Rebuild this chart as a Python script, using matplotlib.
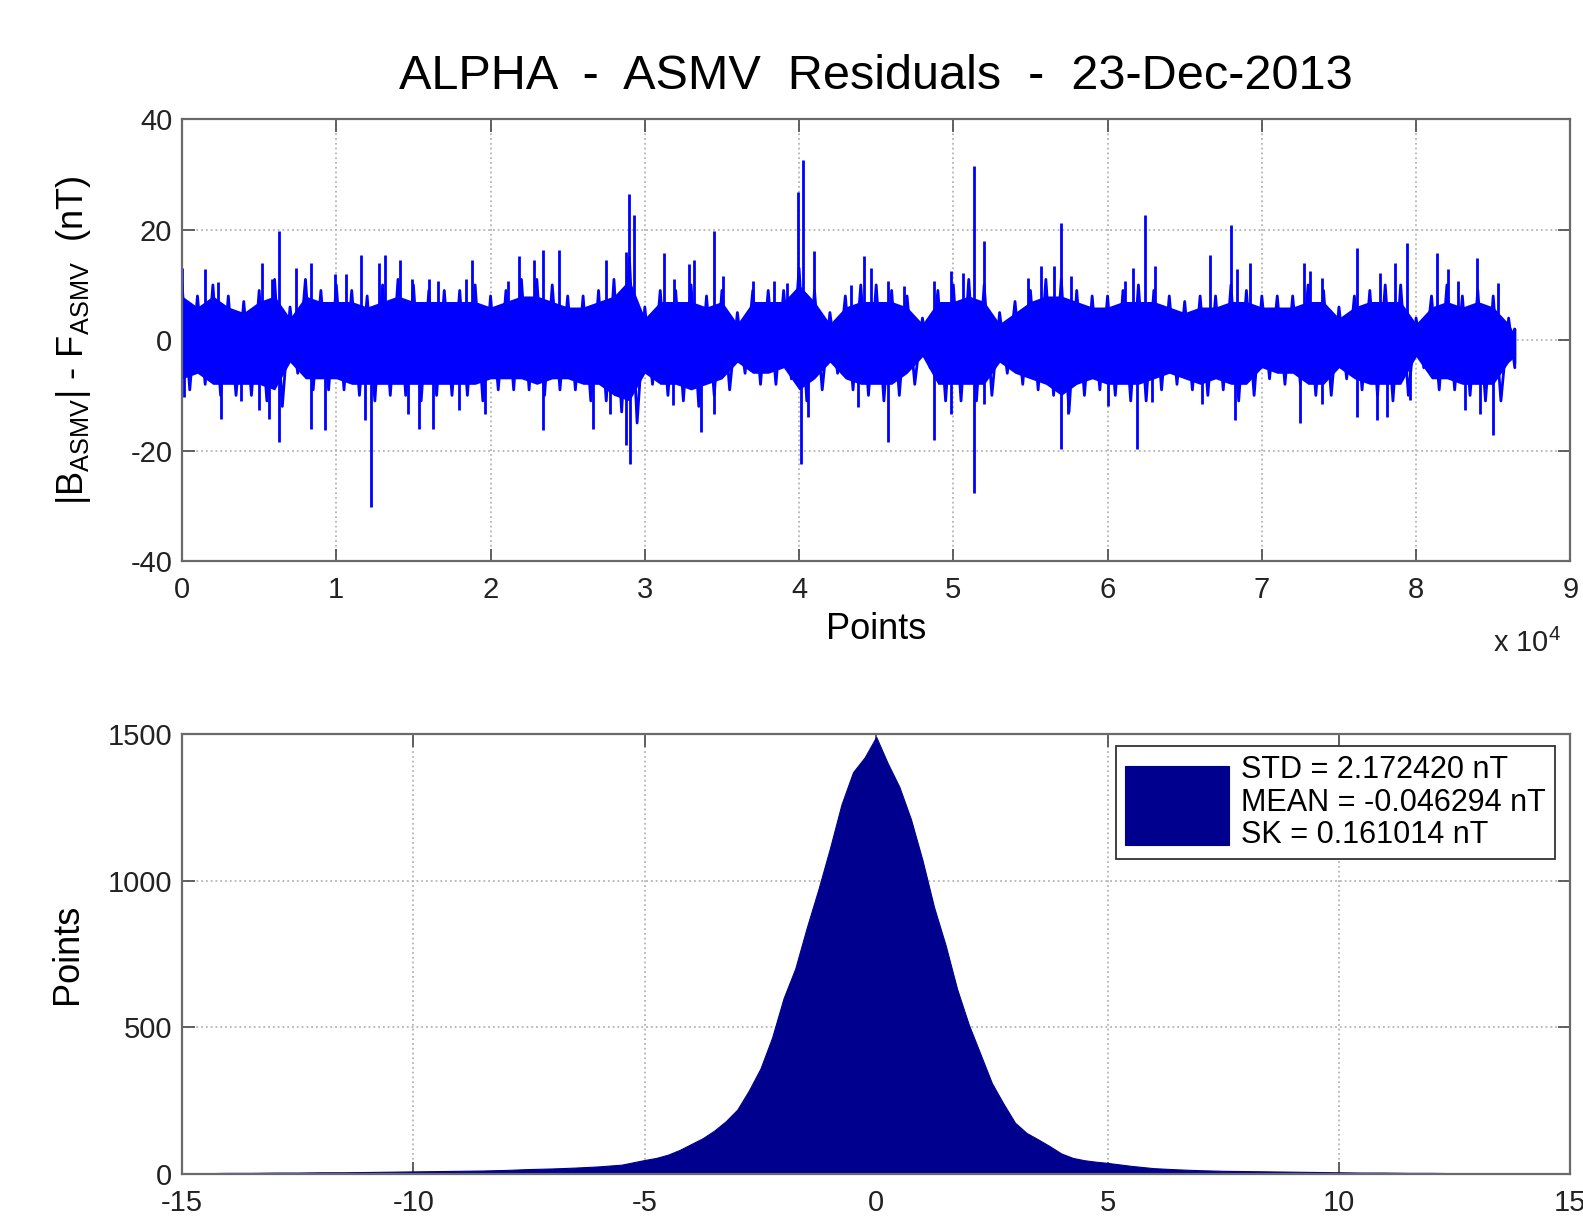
import matplotlib
matplotlib.use('Agg')
from matplotlib import rcParams

rcParams['font.family'] = 'Liberation Sans'
rcParams['mathtext.default'] = 'regular'
rcParams['axes.unicode_minus'] = False
import matplotlib.pyplot as plt

""" ALPHA ASMV residuals: time series (top) and histogram (bottom) """

# residual series, read every 1000 points (nT)
core_x = list(range(0, 87000, 1000)) + [86400]
# solid centre of the band
dense_hi = [8, 6, 8, 6, 5, 7, 8, 4, 8, 7, 7, 7, 6, 7, 8, 7, 7, 7, 7, 7, 6, 7, 8, 8, 7, 6, 6, 7, 8, 11,
            4, 7, 7, 7, 6, 7, 3, 7, 7, 7, 10, 7, 3, 6, 7, 7, 7, 6, 3, 7, 7, 8, 7, 3, 5, 7, 8, 8,
            7, 6, 6, 7, 7, 7, 6, 5, 6, 6, 7, 7, 6, 6, 6, 7, 7, 4, 6, 7, 7, 7, 3, 6, 7, 6, 7, 6, 3, 1]
dense_lo = [-7, -6, -8, -8, -8, -8, -9, -4, -7, -7, -7, -8, -8, -8, -8, -8, -8, -8, -8, -8, -7, -7, -7, -8, -7,
            -7, -8, -8, -10, -11, -6, -8, -8, -9, -8, -7, -4, -6, -6, -5, -9, -7, -4, -7, -8, -8, -8, -6,
            -3, -8, -8, -8, -8, -4, -6, -7, -8, -10, -8, -7, -8, -8, -8, -7, -6, -7, -8, -7, -8, -8, -5,
            -6, -6, -8, -8, -5, -7, -8, -8, -8, -3, -7, -7, -8, -8, -8, -4, -3]
# ragged outer edge of the band
env_hi = [10, 8, 10, 8, 7, 9, 11, 6, 11, 9, 10, 9, 8, 10, 11, 10, 9, 9, 9, 10, 8, 9, 11, 11, 10, 8, 8, 9, 11, 15,
          6, 9, 9, 10, 8, 9, 5, 9, 9, 9, 13, 9, 5, 8, 10, 10, 9, 8, 4, 9, 10, 11, 10, 5, 7, 9, 11, 11,
          9, 8, 8, 9, 10, 9, 8, 7, 8, 8, 10, 9, 8, 8, 8, 10, 9, 6, 8, 9, 10, 10, 4, 8, 10, 8, 9, 8, 4, 2]
env_lo = [-9, -8, -10, -10, -10, -11, -12, -6, -9, -9, -9, -10, -11, -10, -10, -11, -10, -10, -10, -11, -9, -9,
          -9, -10, -9, -9, -11, -11, -13, -15, -8, -10, -11, -12, -10, -9, -6, -8, -8, -7, -11, -9, -6, -9,
          -10, -11, -10, -8, -5, -11, -11, -11, -10, -6, -8, -9, -10, -13, -10, -9, -10, -11, -11, -9, -8,
          -9, -10, -9, -11, -10, -7, -8, -8, -10, -10, -7, -9, -10, -11, -10, -5, -9, -9, -10, -11, -11, -5, -4]

# individual excursions above the band (point index, nT)
up_x = [0, 1500, 2300, 5200, 5800, 6300, 7400, 8370, 9900, 10650, 11600, 12800, 13150, 14100, 14900,
        16000, 16600, 18400, 18800, 21100, 21850, 22800, 23370, 24460, 27500, 28800, 28980, 29300,
        31250, 31900, 32880, 33200, 34500, 35040, 37000, 38390, 39250, 39900, 40230, 40980, 43360,
        44180, 44660, 45740, 46820, 48770, 49850, 50600, 51360, 52010, 54820, 55690, 56550, 56980,
        57630, 61150, 61640, 62440, 63090, 66650, 68010, 68380, 69240, 72740, 73130, 73890, 76150,
        77670, 78640, 79400, 81340, 82100, 82740, 83930, 85330]
up_y = [13, 12.8, 10.5, 14, 11, 19.7, 13, 14, 12, 12, 15.5, 14, 15.5, 14.6, 11,
        11, 10.7, 11, 14.6, 10.7, 15.2, 14.6, 16.4, 16.4, 14.6, 16, 26.4, 22.7,
        15.8, 11, 13.7, 14.6, 19.7, 11.6, 10.7, 10.7, 10.4, 26.9, 32.7, 16.1, 10,
        15.2, 13, 10.7, 9.8, 10.7, 12.5, 12.2, 31.5, 17.9, 11.3, 13.4, 13.4, 21.2,
        11.6, 10.7, 13, 22.7, 13.4, 15.5, 20.9, 12.8, 14, 14, 12.5, 11.3, 16.7,
        12.2, 14, 17.6, 15.8, 12.8, 10.7, 14.9, 10.4]

# individual excursions below the band (point index, nT)
dn_x = [100, 2500, 3800, 5000, 5650, 6300, 8370, 9240, 11850, 12280, 14670, 15370, 16300, 17930,
        19670, 23370, 26630, 27720, 28800, 29020, 31800, 33630, 34500, 40120, 40550, 43790, 45740,
        48770, 49850, 51320, 52010, 56980, 57420, 60010, 61900, 62870, 66110, 68270, 72480, 73890,
        76150, 77450, 78100, 79610, 83180, 84150, 85010]
dn_y = [-10.3, -14.2, -11, -12.7, -14.2, -18.4, -16, -16.3, -14.5, -30.3, -13.3, -16, -16, -12.7,
        -13.3, -16.3, -16, -13.3, -19, -22.5, -11.8, -16.6, -13.3, -22.5, -13.9, -12.1, -18.4,
        -18, -13.3, -27.6, -11.5, -19.8, -13.3, -12, -19.8, -11.2, -11.5, -14.5, -15, -11.5,
        -13.9, -14.5, -13.9, -10.9, -12.7, -13.3, -17.2]

# histogram of the residuals (bin centre in nT, count)
hist_x = [-15, -14.5, -14, -13.5, -13, -12.5, -12, -11.5, -11, -10.5, -10, -9.5, -9, -8.5, -8, -7.5,
          -7, -6.5, -6, -5.5, -5, -4.75, -4.5, -4.25, -4, -3.75, -3.5, -3.25, -3, -2.75, -2.5,
          -2.25, -2, -1.75, -1.5, -1.25, -1, -0.75, -0.5, -0.25, 0, 0.25, 0.5, 0.75, 1, 1.25,
          1.5, 1.75, 2, 2.25, 2.5, 2.75, 3, 3.25, 3.5, 3.75, 4, 4.25, 4.5, 4.75, 5, 5.5, 6, 6.5,
          7, 7.5, 8, 8.5, 9, 9.5, 10, 10.5, 11, 11.5, 12, 12.5, 13, 13.5, 14, 14.5, 15]
hist_n = [3, 3, 4, 4, 5, 5, 6, 6, 7, 8, 9, 10, 11, 12, 14, 17,
          19, 22, 26, 32, 48, 55, 66, 82, 102, 122, 148, 180, 220, 285, 360,
          465, 600, 700, 840, 970, 1110, 1260, 1370, 1420, 1490, 1400, 1320, 1210, 1070, 910,
          780, 630, 510, 410, 310, 240, 175, 140, 118, 95, 70, 55, 47, 42, 38, 28, 20, 16,
          13, 11, 10, 9, 8, 7, 6, 5, 5, 4, 4, 3, 3, 3, 2, 2, 2]

stats = ['STD = 2.172420 nT', 'MEAN = -0.046294 nT', 'SK = 0.161014 nT']

res_label = r'|B$_{ASMV}$| - F$_{ASMV}$  (nT)'


def style(ax):
    ax.grid(True, linestyle=':', color='#b4b4b4', linewidth=1.3)
    ax.set_axisbelow(True)
    ax.tick_params(direction='in', top=True, right=True, length=9, width=1.3,
                   color='#555555', labelsize=21, labelcolor='#222222')
    ax.tick_params(axis='x', pad=11)
    ax.tick_params(axis='y', pad=7)
    for s in ax.spines.values():
        s.set_color('#6a6a6a')
        s.set_linewidth(1.6)


def main():
    fig = plt.figure(figsize=(15.83, 12.17), dpi=100)

    # top: residual series
    ax1 = fig.add_axes([0.115, 0.539, 0.877, 0.363])
    ax1.fill_between(core_x, dense_lo, dense_hi, color='blue', linewidth=0)
    # zigzag between the upper and lower edge, like the raw trace
    zx, zy = [], []
    for x, hi, lo in zip(core_x, env_hi, env_lo):
        zx += [x, min(x + 500, 86400)]
        zy += [hi, lo]
    ax1.plot(zx, zy, color='blue', linewidth=2.0)
    ax1.vlines(up_x, 0, up_y, color='blue', linewidth=2.0)
    ax1.vlines(dn_x, 0, dn_y, color='blue', linewidth=2.0)
    ax1.set_xlim(0, 90000)
    ax1.set_ylim(-40, 40)
    ax1.set_xticks(range(0, 90001, 10000))
    ax1.set_xticklabels([str(i) for i in range(10)])
    ax1.set_yticks([-40, -20, 0, 20, 40])
    style(ax1)
    ax1.set_title('ALPHA  -  ASMV  Residuals  -  23-Dec-2013', fontsize=35, pad=22)
    ax1.set_xlabel('Points', fontsize=26)
    ax1.xaxis.set_label_coords(0.5, -0.115)
    ax1.set_ylabel(res_label, fontsize=26)
    ax1.yaxis.set_label_coords(-0.064, 0.5)
    fig.text(0.986, 1 - 652 / 1217, r'x 10$^{4}$', fontsize=21, ha='right', va='baseline',
             color='#222222')

    # bottom: histogram
    ax2 = fig.add_axes([0.115, 0.0353, 0.877, 0.3616])
    h = ax2.fill_between(hist_x, 0, hist_n, color='#00008f', linewidth=0.8)
    ax2.set_xlim(-15, 15)
    ax2.set_ylim(0, 1500)
    ax2.set_xticks([-15, -10, -5, 0, 5, 10, 15])
    ax2.set_yticks([0, 500, 1000, 1500])
    style(ax2)
    ax2.set_ylabel('Points', fontsize=26)
    ax2.yaxis.set_label_coords(-0.07, 0.5)
    ax2.set_xlabel(res_label, fontsize=26)
    ax2.xaxis.set_label_coords(0.5, -0.097)

    leg = ax2.legend([h], ['\n'.join(stats)], loc='upper right', bbox_to_anchor=(0.989, 0.972),
                     borderaxespad=0, fancybox=False, framealpha=1, edgecolor='#333333',
                     fontsize=22, handlelength=3.4, handleheight=3.6, handletextpad=0.4,
                     borderpad=0.3)
    leg.get_frame().set_linewidth(1.3)
    for t in leg.get_texts():
        t.set_linespacing(1.1)

    plt.savefig('out.png', dpi=100)


if __name__ == "__main__":
    main()
